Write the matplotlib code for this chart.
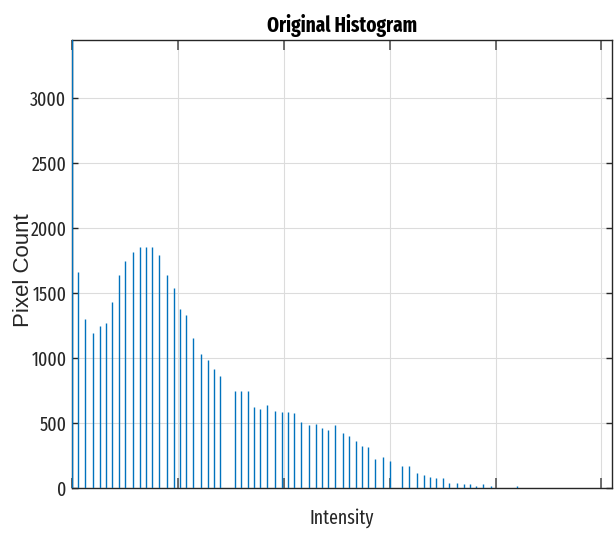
import numpy as np
import matplotlib
matplotlib.use("Agg")
import matplotlib.pyplot as plt

# intensity levels present in the image and their pixel counts
intensity = [0, 3, 6, 10, 13, 16, 19, 22, 25, 29, 32, 35, 38, 41, 45, 48, 51, 54, 57,
             61, 64, 67, 70, 77, 80, 83, 86, 89, 92, 96, 99, 102, 105, 108, 112, 115,
             118, 121, 124, 128, 131, 134, 137, 140, 143, 147, 150, 156, 159, 163, 166,
             169, 172, 175, 178, 182, 185, 188, 191, 194, 198, 210]
counts = [3500, 1662, 1303, 1190, 1249, 1267, 1431, 1644, 1746, 1821, 1859, 1859, 1859,
          1795, 1644, 1539, 1380, 1331, 1154, 1031, 982, 915, 862, 745, 745, 745, 620,
          605, 636, 595, 585, 585, 577, 508, 485, 495, 464, 446, 485, 421, 397, 364,
          321, 313, 221, 238, 210, 173, 166, 118, 98, 87, 79, 76, 38, 38, 30, 30, 12,
          30, 12, 12]

xticks = [0, 50, 100, 150, 200, 250]
yticks = [0, 500, 1000, 1500, 2000, 2500, 3000]

narrow = ['Fira Sans Extra Condensed', 'Archivo Narrow', 'DejaVu Sans']
wide = ['Liberation Sans', 'DejaVu Sans']

fig = plt.figure(figsize=(6.14, 5.37), dpi=100)
ax = fig.add_axes([72/614, 1-488/537, 540/614, 448/537])

ax.vlines(intensity, 0, counts, color='#0072BD', lw=1.0, zorder=3)

ax.set_xlim(0, 255)
ax.set_ylim(0, 3450)
ax.set_xticks(xticks)
ax.set_xticklabels([])
ax.set_yticks(yticks)
ax.set_yticklabels([str(v) for v in yticks], family=narrow, fontsize=14, color='#262626')

ax.grid(True, color='#dcdcdc', lw=0.8)
ax.set_axisbelow(True)
ax.tick_params(axis='x', direction='in', length=7, width=1.2, color='#555555',
               top=True, bottom=True)
ax.tick_params(axis='y', direction='in', length=4, width=1.0, color='#262626',
               left=True, right=True, pad=4)
for s in ax.spines.values():
    s.set_color('#262626')
    s.set_linewidth(1.0)

ax.set_title('Original Histogram', family=narrow, fontweight='bold', fontsize=15,
             pad=6)
ax.set_xlabel('Intensity', family=narrow, fontsize=14, color='#262626', va='center')
ax.xaxis.set_label_coords(0.5, -0.067)
ax.set_ylabel('Pixel Count', family=wide, fontsize=16, color='#262626', va='center')
ax.yaxis.set_label_coords(-0.09, 0.487)

fig.savefig('out.png', dpi=100)
